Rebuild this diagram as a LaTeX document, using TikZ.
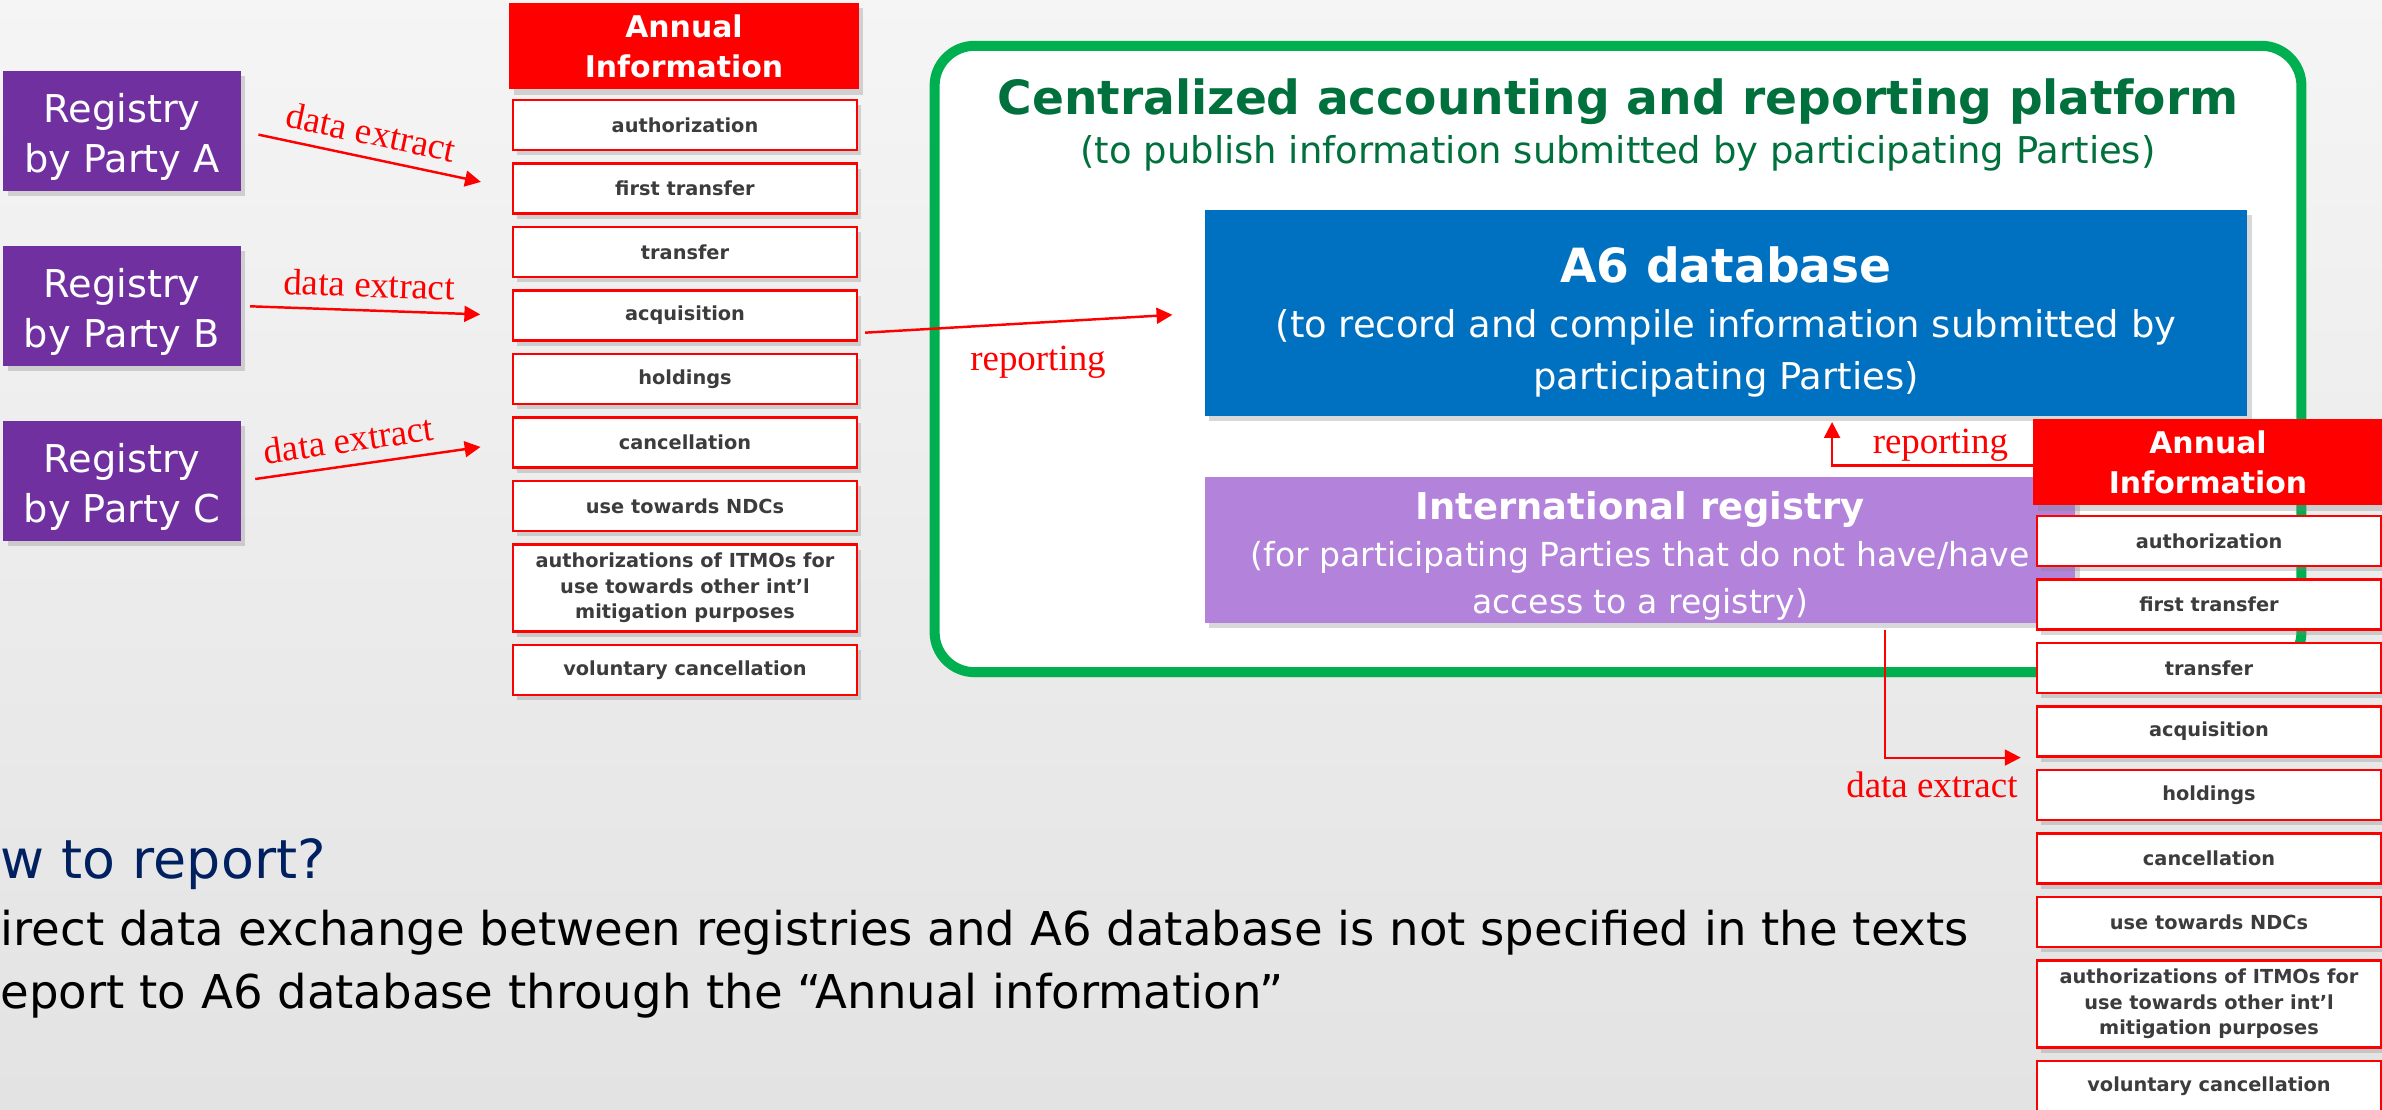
\documentclass[tikz,border=0pt]{standalone}
\usepackage{fontspec}
\setmainfont{DejaVu Sans}
\newfontfamily\serifred{Liberation Serif}
\usetikzlibrary{arrows.meta,shadows}

\definecolor{regpurple}{RGB}{112,48,160}
\definecolor{dbblue}{RGB}{0,112,192}
\definecolor{intlpurple}{RGB}{179,130,219}
\definecolor{platgreen}{RGB}{0,176,80}
\definecolor{titlegreen}{RGB}{0,112,60}
\definecolor{itemgray}{RGB}{60,60,60}
\definecolor{navy}{RGB}{0,32,96}

\tikzset{
    shade/.style={drop shadow={shadow xshift=1.2pt,shadow yshift=-1.5pt,opacity=0.3}},
    regbox/.style={fill=regpurple,minimum width=2.37cm,minimum height=1.2cm,shade},
    regtext/.style={text=white,align=center,font=\fontsize{10.9}{14.2}\selectfont},
    annhead/.style={fill=red,text=white,minimum width=3.49cm,minimum height=0.84cm,
        align=center,font=\bfseries\fontsize{8.5}{11.4}\selectfont,shade},
    itembox/.style={draw=red,line width=0.6pt,fill=white,text=itemgray,minimum width=3.44cm,
        minimum height=0.5cm,inner sep=1pt,align=center,font=\bfseries\fontsize{5.5}{7.3}\selectfont,shade},
    arr/.style={red,line width=0.7pt,-{Triangle[length=4.5pt,width=4.5pt]}},
    lbl/.style={text=red,font=\serifred\fontsize{10.5}{12}\selectfont}
}

\begin{document}
\begin{tikzpicture}[x=0.01cm,y=-0.01cm]
    \useasboundingbox (0,0) rectangle (2382,1110);
    \shade[top color=black!4,bottom color=black!11] (0,0) rectangle (2382,1110);

    \node[draw=platgreen,line width=2.85pt,fill=white,rounded corners=0.4cm,minimum width=13.66cm,
        minimum height=6.26cm,shade] (platform) at (1618,359) {};
    \node[text=titlegreen,font=\bfseries\fontsize{13.4}{16}\selectfont] (ptitle) at (1618,102)
        {Centralized accounting and reporting platform};
    \node[text=titlegreen,font=\fontsize{10.5}{12}\selectfont] (psub) at (1618,153)
        {(to publish information submitted by participating Parties)};

    \node[fill=dbblue,minimum width=10.42cm,minimum height=2.06cm,shade] (a6) at (1726,313) {};
    \node[text=white,align=center,font=\fontsize{10.5}{14.8}\selectfont] (a6text) at (1726,322)
        {{\bfseries\fontsize{13.4}{16}\selectfont A6 database}\\[1pt]
         (to record and compile information submitted by\\participating Parties)};
    \node[fill=intlpurple,minimum width=8.7cm,minimum height=1.45cm,shade] (intl) at (1640,550) {};
    \node[text=white,align=center,font=\fontsize{9.4}{13.4}\selectfont] (intltext) at (1640,556)
        {{\bfseries\fontsize{10.5}{12}\selectfont International registry}\\
         (for participating Parties that do not have/have\\access to a registry)};

    \foreach \p/\y in {A/131,B/306,C/481}{
        \node[regbox] (reg\p) at (122,\y) {};
        \node[regtext] (reg\p text) at (122,\y+6) {Registry\\by Party \p};
    }

    \foreach \s/\dx/\dy in {L/0/0,R/1524/416}{
        \node[annhead] (ann\s) at (684+\dx,46+\dy) {Annual\\Information};
        \foreach \t [count=\i] in {authorization,first transfer,transfer,acquisition,holdings,cancellation,use towards NDCs}
            \node[itembox] (\s\i) at (685+\dx,{125+63.5*(\i-1)+\dy}) {\t};
        \node[itembox,minimum height=0.87cm] (\s8) at (685+\dx,588+\dy)
            {authorizations of ITMOs for\\use towards other int’l\\mitigation purposes};
        \node[itembox] (\s9) at (685+\dx,670+\dy) {voluntary cancellation};
    }

    \draw[arr,shorten <=5pt,shorten >=9pt] (regA.east) -- node[lbl,sloped,above,pos=0.46] {data extract} (L2.west);
    \draw[arr,shorten <=2.5pt,shorten >=9pt] (regB.east) -- node[lbl,sloped,above,pos=0.47] {data extract} (L4.west);
    \draw[arr,shorten <=4pt,shorten >=9pt] (regC.east) -- node[lbl,sloped,above,pos=0.41] {data extract} (L6.west);

    \draw[arr,shorten <=2pt,shorten >=9pt] ([yshift=-5pt]L4.east) -- node[lbl,below=3pt,pos=0.52] {reporting} (a6.west);
    \draw[arr,shorten >=1.5pt] ([yshift=-1pt]annR.west) -| node[lbl,above=-2.5pt,pos=0.23] {reporting} ([xshift=1.06cm]a6.south);
    \draw[red,line width=0.6pt,-{Triangle[length=4.5pt,width=4.5pt]},shorten >=4.3pt]
        ([xshift=2.45cm,yshift=-2pt]intl.south) |- node[lbl,below=0.5pt,pos=0.655] {data extract} (R4.south west);

    \node[anchor=base west,inner sep=0pt,text=navy,font=\fontsize{15.3}{18}\selectfont] (howto) at (0,878) {w to report?};
    \node[anchor=base west,inner sep=0pt,font=\fontsize{13.25}{16}\selectfont] (line1) at (0,945)
        {irect data exchange between registries and A6 database is not specified in the texts};
    \node[anchor=base west,inner sep=0pt,font=\fontsize{13.25}{16}\selectfont] (line2) at (0,1008)
        {eport to A6 database through the “Annual information”};
\end{tikzpicture}
\end{document}
